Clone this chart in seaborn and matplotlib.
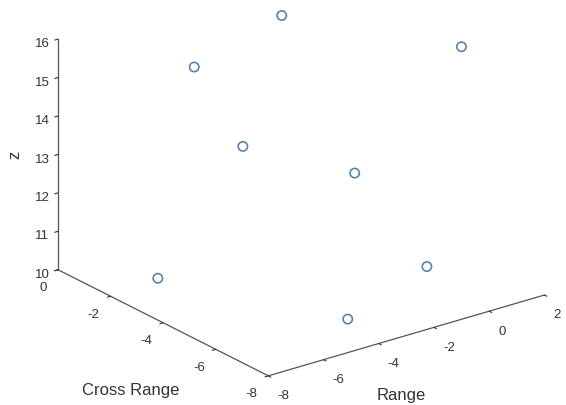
import numpy as np
import pandas as pd
import matplotlib
matplotlib.use('Agg')
import matplotlib.pyplot as plt
import seaborn as sns

# target positions
rng = [-1.8, 0.9, -4.4, -3.4, -0.3, -6.1, 0.6, -3.6]
cross_rng = [-2.0, -6.0, -1.4, -2.2, -3.2, -1.8, -5.0, -6.4]
z = [16, 16, 15, 13, 12, 10, 10, 10]

range_ticks = [-8, -6, -4, -2, 0, 2]
cross_ticks = [-8, -6, -4, -2, 0]
z_ticks = [10, 11, 12, 13, 14, 15, 16]

df = pd.DataFrame({'Range': rng, 'Cross Range': cross_rng, 'z': z})

sns.set_style('white')
plt.rcParams['font.family'] = ['Liberation Sans', 'DejaVu Sans']
plt.rcParams['axes.unicode_minus'] = False
txt = '#333333'

fig = plt.figure(figsize=(5.66, 4.05), dpi=100)
ax = fig.add_axes([0.0225, 0.074, 1, 1], projection='3d', proj_type='ortho')
ax.view_init(elev=22.6, azim=-127.3)
ax.set_box_aspect((1, 1, 0.72), zoom=1.32)

ax.scatter(df['Range'], df['Cross Range'], df['z'], marker='o', s=45,
           facecolors='none', edgecolors='#5b82ad', linewidths=1.2, depthshade=False)

ax.set_xlim(-8, 2)
ax.set_ylim(-8, 0)
ax.set_zlim(10, 16)
ax.set_xticks(range_ticks)
ax.set_yticks(cross_ticks)
ax.set_zticks(z_ticks)

ax.grid(False)
for a in (ax.xaxis, ax.yaxis, ax.zaxis):
    a.pane.set_visible(False)
    a.line.set_color('#555555')
    a.line.set_linewidth(0.9)
    a._axinfo['tick']['inward_factor'] = 0.15
    a._axinfo['tick']['outward_factor'] = 0.0
    a._axinfo['tick']['color'] = '#555555'
ax.tick_params(colors=txt, labelsize=9.5)
ax.xaxis.set_tick_params(pad=-1.5)
ax.yaxis.set_tick_params(pad=-2)
ax.zaxis.set_tick_params(pad=-3)
ax.zaxis.set_ticks_position('upper')

for t in ax.get_xticklabels():
    t.set_ha('left')
for t in ax.get_yticklabels():
    t.set_ha('right')

# axis titles placed like the original
fig.text(0.2314, 0.0358, 'Cross Range', fontsize=12, color=txt, ha='center', va='center')
fig.text(0.7085, 0.0235, 'Range', fontsize=12, color=txt, ha='center', va='center')
fig.text(0.0265, 0.617, 'z', fontsize=12, color=txt, ha='center', va='center', rotation=90)

fig.savefig('out.png', dpi=100)
